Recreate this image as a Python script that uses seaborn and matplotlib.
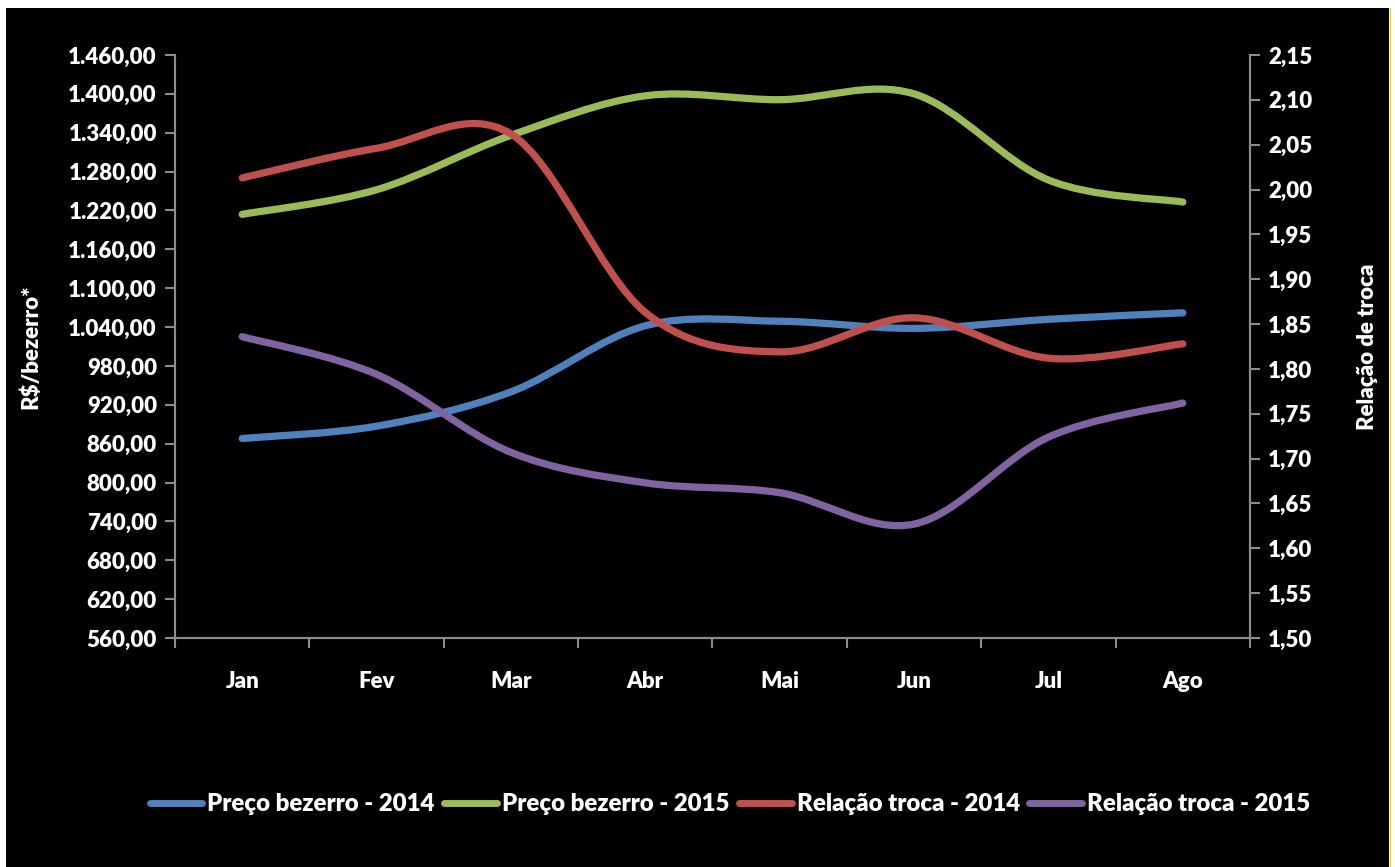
import numpy as np
import matplotlib
matplotlib.use("Agg")
import matplotlib.pyplot as plt
from matplotlib.path import Path
from matplotlib.patches import PathPatch, Rectangle
from matplotlib.lines import Line2D
from matplotlib.ticker import FuncFormatter, FixedLocator
import seaborn as sns

months = ["Jan", "Fev", "Mar", "Abr", "Mai", "Jun", "Jul", "Ago"]
preco_2014 = [868, 887, 940, 1042, 1049, 1038, 1052, 1062]
preco_2015 = [1214, 1252, 1336, 1397, 1391, 1400, 1267, 1233]
troca_2014 = [2.013, 2.046, 2.062, 1.863, 1.819, 1.857, 1.812, 1.828]
troca_2015 = [1.836, 1.794, 1.707, 1.673, 1.662, 1.627, 1.724, 1.762]
left_ticks = np.arange(560, 1461, 60)
right_ticks = np.arange(1.50, 2.151, 0.05)

sns.set_style("dark", {"axes.facecolor": "black", "figure.facecolor": "white",
                       "xtick.bottom": True, "ytick.left": True})
plt.rcParams["font.family"] = ["Lato", "DejaVu Sans"]
plt.rcParams["font.weight"] = "heavy"

blue, green, red, purple = "#4F81BD", "#9BBB59", "#C0504D", "#8064A2"
grey = "#8C8C8C"
fs = 16
fw = "heavy"


def smooth_path(x, y):
    # Excel-style smoothed line: cubic bezier segments through the points
    x = np.asarray(x, float)
    y = np.asarray(y, float)
    px = np.concatenate([[x[0]], x, [x[-1]]])
    py = np.concatenate([[y[0]], y, [y[-1]]])
    verts = [(x[0], y[0])]
    codes = [Path.MOVETO]
    for i in range(1, len(px) - 2):
        c1 = (px[i] + (px[i + 1] - px[i - 1]) / 6, py[i] + (py[i + 1] - py[i - 1]) / 6)
        c2 = (px[i + 1] - (px[i + 2] - px[i]) / 6, py[i + 1] - (py[i + 2] - py[i]) / 6)
        verts += [c1, c2, (px[i + 1], py[i + 1])]
        codes += [Path.CURVE4] * 3
    return Path(verts, codes)


fig = plt.figure(figsize=(13.95, 8.67), dpi=100)
fig.patches.append(Rectangle((6 / 1395, 0), 1383 / 1395, 1 - 8 / 867,
                             transform=fig.transFigure, facecolor="black",
                             edgecolor="none", zorder=-10))
ax = fig.add_axes([175 / 1395, 1 - 638 / 867, 1075 / 1395, 583 / 867])
ax.set_facecolor("black")
ax2 = ax.twinx()

xs = np.arange(len(months))
for a, data, col in [(ax, preco_2014, blue), (ax, preco_2015, green),
                     (ax2, troca_2014, red), (ax2, troca_2015, purple)]:
    a.add_patch(PathPatch(smooth_path(xs, data), facecolor="none", edgecolor=col,
                          lw=5.2, capstyle="round", joinstyle="round", zorder=3))

ax.set_xlim(-0.5, len(months) - 0.5)
ax.set_ylim(560, 1460)
ax2.set_ylim(1.50, 2.15)
ax.yaxis.set_major_locator(FixedLocator(left_ticks))
ax2.yaxis.set_major_locator(FixedLocator(right_ticks))


def br(v, pos):
    s = f"{v:,.2f}"
    return s.replace(",", "X").replace(".", ",").replace("X", ".")


ax.yaxis.set_major_formatter(FuncFormatter(br))
ax2.yaxis.set_major_formatter(FuncFormatter(br))

ax.set_xticks(xs)
ax.set_xticklabels(months)
ax.set_xticks(np.arange(-0.5, len(months)), minor=True)
ax.tick_params(axis="x", which="major", length=0, pad=24, colors="white", labelsize=fs)
ax.tick_params(axis="x", which="minor", length=7, width=1.5, color=grey,
               direction="out", bottom=True)
ax.tick_params(axis="y", length=7, width=1.5, color=grey, direction="out",
               labelcolor="white", labelsize=fs, pad=6, left=True)
ax2.tick_params(axis="y", length=7, width=1.5, color=grey, direction="out",
                labelcolor="white", labelsize=fs, pad=6, right=True)
for t in ax.get_xticklabels() + ax.get_yticklabels() + ax2.get_yticklabels():
    t.set_fontweight(fw)

for a in (ax, ax2):
    a.spines["top"].set_visible(False)
    for side in ("left", "right", "bottom"):
        a.spines[side].set_color(grey)
        a.spines[side].set_linewidth(1.5)
    a.grid(False)

ax.set_ylabel("R$/bezerro*", color="white", fontsize=fs, fontweight=fw, labelpad=19)
ax2.set_ylabel("Relação de troca", color="white", fontsize=fs, fontweight=fw,
               labelpad=32)

handles = [Line2D([], [], color=c, lw=5, solid_capstyle="round") for c in (blue, green, red, purple)]
labels = ["Preço bezerro - 2014", "Preço bezerro - 2015",
          "Relação troca - 2014", "Relação troca - 2015"]
leg = fig.legend(handles, labels, loc="center", bbox_to_anchor=(730 / 1395, 1 - 804 / 867),
                 ncol=4, frameon=False, handlelength=2.2,
                 handletextpad=0.2, columnspacing=0.4,
                 prop={"weight": fw, "size": 17.3})
for t in leg.get_texts():
    t.set_color("white")

fig.add_artist(Line2D([1389.5 / 1395] * 2, [0, 1 - 8 / 867], transform=fig.transFigure,
                      color="#E8E000", lw=1))

fig.savefig("out.png", dpi=100, facecolor=fig.get_facecolor())
